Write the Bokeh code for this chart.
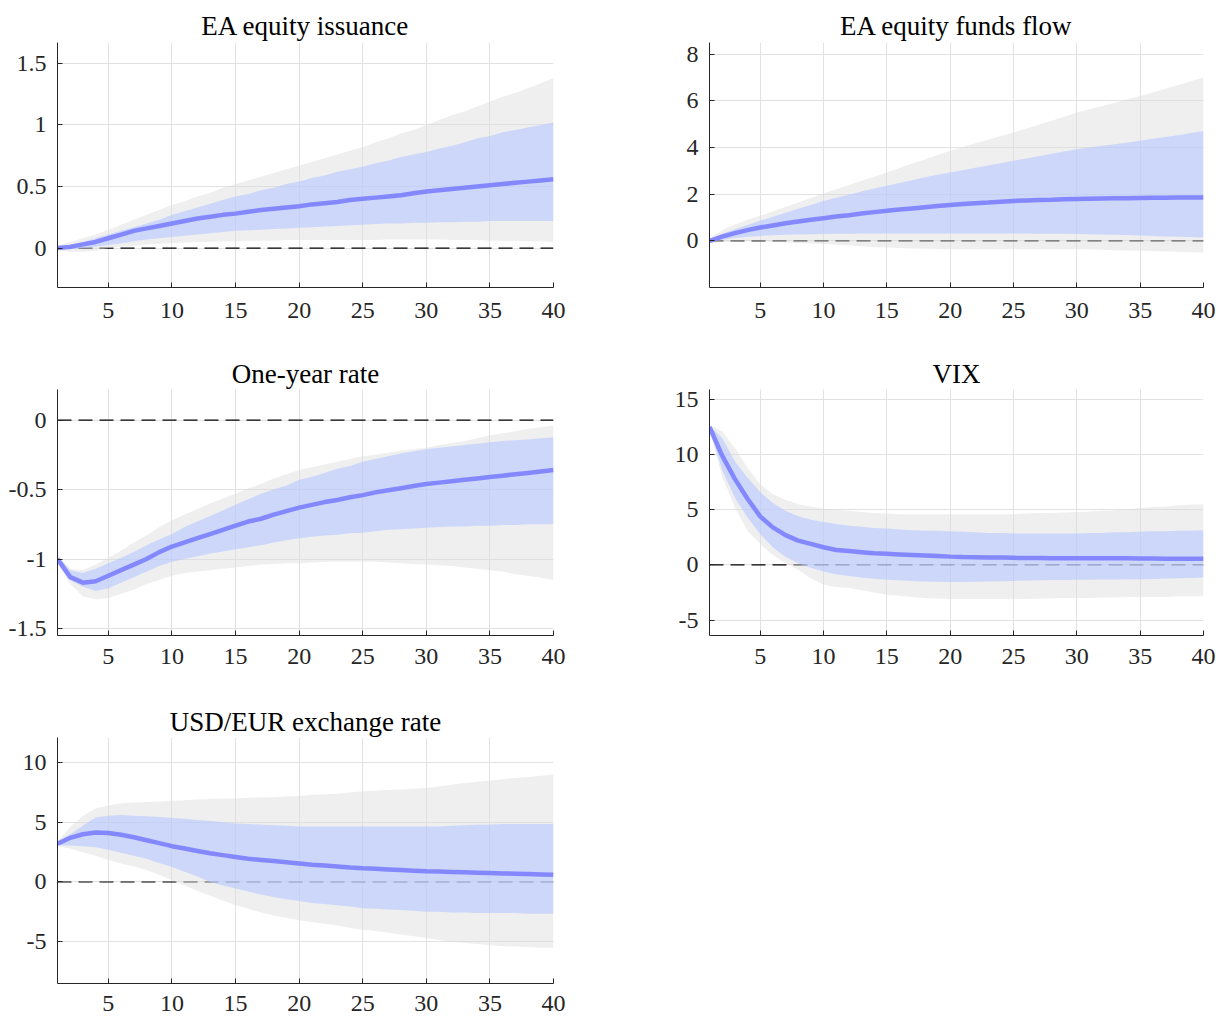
from bokeh.plotting import figure
from bokeh.models import Range1d, FixedTicker, CustomJSTickFormatter
from bokeh.layouts import column, row
from bokeh.embed import file_html
from bokeh.resources import INLINE

FONT = "Liberation Serif"

horizon = list(range(1, 41))
x_ticks = [5, 10, 15, 20, 25, 30, 35, 40]

# ---- EA equity issuance ----
issu_med = [0.00, 0.01, 0.03, 0.05, 0.08, 0.11, 0.14, 0.16, 0.18, 0.20,
            0.22, 0.24, 0.255, 0.27, 0.28, 0.295, 0.31, 0.32, 0.33, 0.34,
            0.355, 0.365, 0.375, 0.39, 0.40, 0.41, 0.42, 0.43, 0.445, 0.46,
            0.47, 0.48, 0.49, 0.50, 0.51, 0.52, 0.53, 0.54, 0.55, 0.56]
issu_hi68 = [0.01, 0.03, 0.05, 0.08, 0.11, 0.14, 0.17, 0.20, 0.23, 0.27,
             0.30, 0.33, 0.36, 0.39, 0.42, 0.44, 0.47, 0.49, 0.52, 0.54,
             0.57, 0.59, 0.62, 0.64, 0.66, 0.69, 0.71, 0.74, 0.76, 0.78,
             0.81, 0.83, 0.86, 0.89, 0.91, 0.94, 0.96, 0.98, 1.00, 1.02]
issu_lo68 = [-0.01, -0.01, 0.00, 0.01, 0.025, 0.04, 0.055, 0.07, 0.08, 0.09,
             0.10, 0.11, 0.12, 0.13, 0.14, 0.145, 0.15, 0.155, 0.16, 0.165,
             0.17, 0.175, 0.18, 0.185, 0.19, 0.195, 0.20, 0.20, 0.205, 0.205,
             0.21, 0.21, 0.215, 0.215, 0.22, 0.22, 0.22, 0.22, 0.22, 0.22]
issu_hi90 = [0.02, 0.05, 0.08, 0.11, 0.15, 0.19, 0.23, 0.27, 0.31, 0.35,
             0.38, 0.42, 0.45, 0.49, 0.52, 0.55, 0.58, 0.61, 0.64, 0.67,
             0.70, 0.73, 0.76, 0.79, 0.82, 0.86, 0.89, 0.93, 0.96, 1.00,
             1.04, 1.08, 1.11, 1.15, 1.19, 1.23, 1.26, 1.30, 1.34, 1.38]
issu_lo90 = [-0.02, -0.03, -0.03, -0.02, 0.00, 0.01, 0.02, 0.03, 0.035, 0.04,
             0.045, 0.05, 0.05, 0.055, 0.055, 0.06, 0.06, 0.06, 0.065, 0.065,
             0.065, 0.065, 0.065, 0.065, 0.065, 0.065, 0.07, 0.07, 0.07, 0.07,
             0.07, 0.065, 0.065, 0.065, 0.06, 0.06, 0.06, 0.055, 0.055, 0.05]

# ---- EA equity funds flow ----
flow_med = [0.00, 0.18, 0.33, 0.46, 0.57, 0.66, 0.75, 0.83, 0.90, 0.97,
            1.04, 1.10, 1.17, 1.23, 1.29, 1.34, 1.39, 1.44, 1.49, 1.54,
            1.58, 1.61, 1.64, 1.68, 1.71, 1.73, 1.75, 1.76, 1.78, 1.79,
            1.80, 1.81, 1.82, 1.83, 1.84, 1.85, 1.85, 1.86, 1.86, 1.86]
flow_hi68 = [0.05, 0.30, 0.50, 0.68, 0.86, 1.03, 1.20, 1.37, 1.54, 1.71,
             1.85, 1.98, 2.11, 2.24, 2.36, 2.48, 2.60, 2.72, 2.83, 2.93,
             3.03, 3.13, 3.23, 3.33, 3.43, 3.53, 3.63, 3.73, 3.83, 3.93,
             4.00, 4.07, 4.14, 4.21, 4.29, 4.37, 4.45, 4.53, 4.62, 4.71]
flow_lo68 = [-0.05, 0.05, 0.12, 0.17, 0.21, 0.24, 0.26, 0.27, 0.28, 0.29,
             0.30, 0.30, 0.31, 0.31, 0.31, 0.31, 0.31, 0.31, 0.31, 0.31,
             0.31, 0.31, 0.31, 0.31, 0.31, 0.31, 0.30, 0.30, 0.30, 0.29,
             0.28, 0.27, 0.26, 0.25, 0.23, 0.21, 0.19, 0.17, 0.16, 0.14]
flow_hi90 = [0.10, 0.45, 0.70, 0.90, 1.07, 1.26, 1.45, 1.64, 1.84, 2.03,
             2.21, 2.39, 2.57, 2.75, 2.93, 3.12, 3.31, 3.49, 3.68, 3.86,
             4.02, 4.18, 4.33, 4.49, 4.64, 4.81, 4.98, 5.15, 5.32, 5.50,
             5.64, 5.78, 5.92, 6.07, 6.21, 6.36, 6.52, 6.68, 6.84, 7.00]
flow_lo90 = [-0.10, -0.06, -0.04, -0.03, -0.03, -0.05, -0.07, -0.09, -0.11, -0.14,
             -0.17, -0.20, -0.23, -0.26, -0.29, -0.31, -0.33, -0.34, -0.35, -0.36,
             -0.36, -0.36, -0.36, -0.36, -0.36, -0.36, -0.36, -0.36, -0.36, -0.36,
             -0.37, -0.38, -0.40, -0.41, -0.43, -0.44, -0.46, -0.47, -0.49, -0.50]

# ---- One-year rate ----
rate_med = [-1.00, -1.13, -1.17, -1.16, -1.12, -1.08, -1.04, -1.00, -0.95, -0.91,
            -0.88, -0.85, -0.82, -0.79, -0.76, -0.73, -0.71, -0.68, -0.655, -0.63,
            -0.61, -0.59, -0.575, -0.555, -0.54, -0.52, -0.505, -0.49, -0.475, -0.46,
            -0.45, -0.44, -0.43, -0.42, -0.41, -0.40, -0.39, -0.38, -0.37, -0.36]
rate_hi68 = [-0.98, -1.08, -1.10, -1.07, -1.03, -0.99, -0.95, -0.90, -0.86, -0.82,
             -0.77, -0.73, -0.69, -0.65, -0.61, -0.57, -0.53, -0.50, -0.47, -0.43,
             -0.41, -0.38, -0.35, -0.33, -0.30, -0.28, -0.26, -0.24, -0.225, -0.21,
             -0.20, -0.19, -0.18, -0.17, -0.16, -0.15, -0.145, -0.14, -0.13, -0.125]
rate_lo68 = [-1.02, -1.15, -1.20, -1.23, -1.21, -1.17, -1.13, -1.09, -1.05, -1.02,
             -1.00, -0.98, -0.96, -0.945, -0.93, -0.915, -0.90, -0.88, -0.865, -0.85,
             -0.84, -0.83, -0.825, -0.815, -0.81, -0.80, -0.79, -0.785, -0.78, -0.775,
             -0.77, -0.765, -0.765, -0.76, -0.76, -0.755, -0.755, -0.75, -0.75, -0.75]
rate_hi90 = [-0.97, -1.07, -1.08, -1.04, -0.99, -0.94, -0.88, -0.83, -0.77, -0.72,
             -0.68, -0.64, -0.60, -0.565, -0.53, -0.49, -0.46, -0.42, -0.39, -0.36,
             -0.34, -0.32, -0.30, -0.28, -0.26, -0.25, -0.235, -0.22, -0.21, -0.20,
             -0.18, -0.165, -0.15, -0.13, -0.11, -0.095, -0.08, -0.065, -0.05, -0.04]
rate_lo90 = [-1.03, -1.18, -1.27, -1.29, -1.28, -1.25, -1.22, -1.18, -1.15, -1.12,
             -1.10, -1.09, -1.08, -1.07, -1.06, -1.05, -1.04, -1.035, -1.03, -1.03,
             -1.025, -1.02, -1.02, -1.02, -1.02, -1.02, -1.025, -1.03, -1.035, -1.04,
             -1.045, -1.05, -1.06, -1.07, -1.08, -1.09, -1.11, -1.12, -1.135, -1.15]

# ---- VIX ----
vix_med = [12.5, 9.9, 7.8, 6.0, 4.4, 3.4, 2.7, 2.2, 1.9, 1.6,
           1.35, 1.25, 1.15, 1.05, 1.0, 0.95, 0.9, 0.85, 0.8, 0.75,
           0.72, 0.7, 0.68, 0.66, 0.64, 0.62, 0.62, 0.61, 0.61, 0.6,
           0.6, 0.6, 0.6, 0.6, 0.58, 0.57, 0.56, 0.55, 0.55, 0.55]
vix_hi68 = [12.6, 11.5, 9.4, 7.9, 6.6, 5.6, 4.9, 4.4, 4.1, 3.9,
            3.7, 3.55, 3.45, 3.35, 3.3, 3.2, 3.15, 3.1, 3.1, 3.05,
            3.0, 2.95, 2.9, 2.9, 2.85, 2.85, 2.85, 2.85, 2.85, 2.85,
            2.9, 2.9, 2.95, 2.95, 3.0, 3.05, 3.05, 3.1, 3.1, 3.15]
vix_lo68 = [12.4, 8.6, 6.1, 4.3, 2.8, 1.6, 0.75, 0.15, -0.25, -0.6,
            -0.85, -1.0, -1.15, -1.25, -1.35, -1.4, -1.45, -1.5, -1.52, -1.55,
            -1.55, -1.52, -1.5, -1.48, -1.45, -1.42, -1.4, -1.38, -1.36, -1.35,
            -1.34, -1.33, -1.32, -1.31, -1.3, -1.27, -1.24, -1.21, -1.18, -1.15]
vix_hi90 = [12.7, 12.1, 10.6, 8.8, 7.3, 6.4, 5.9, 5.5, 5.3, 5.1,
            5.0, 4.9, 4.8, 4.7, 4.65, 4.6, 4.6, 4.6, 4.6, 4.6,
            4.6, 4.6, 4.6, 4.6, 4.6, 4.65, 4.7, 4.7, 4.75, 4.8,
            4.85, 4.9, 4.95, 5.05, 5.15, 5.25, 5.3, 5.4, 5.45, 5.5]
vix_lo90 = [12.3, 8.0, 5.2, 3.1, 1.9, 0.9, 0.15, -0.45, -1.2, -1.8,
            -2.0, -2.1, -2.3, -2.5, -2.7, -2.8, -2.9, -3.0, -3.05, -3.1,
            -3.1, -3.1, -3.1, -3.1, -3.1, -3.1, -3.05, -3.05, -3.0, -3.0,
            -3.0, -2.95, -2.95, -2.9, -2.9, -2.9, -2.9, -2.85, -2.85, -2.85]

# ---- USD/EUR exchange rate ----
fx_med = [3.2, 3.7, 4.0, 4.15, 4.1, 3.95, 3.75, 3.5, 3.25, 3.0,
          2.8, 2.6, 2.4, 2.25, 2.1, 1.95, 1.85, 1.75, 1.65, 1.55,
          1.45, 1.38, 1.3, 1.22, 1.15, 1.1, 1.05, 1.0, 0.95, 0.9,
          0.87, 0.84, 0.81, 0.78, 0.75, 0.72, 0.69, 0.66, 0.63, 0.6]
fx_hi68 = [3.3, 4.0, 4.7, 5.4, 5.55, 5.6, 5.55, 5.5, 5.45, 5.35,
           5.3, 5.2, 5.1, 5.0, 4.9, 4.85, 4.8, 4.75, 4.7, 4.65,
           4.65, 4.65, 4.65, 4.65, 4.65, 4.65, 4.65, 4.65, 4.65, 4.65,
           4.65, 4.7, 4.75, 4.8, 4.8, 4.85, 4.85, 4.85, 4.85, 4.85]
fx_lo68 = [3.1, 3.05, 3.0, 2.9, 2.7, 2.45, 2.2, 1.95, 1.6, 1.25,
           0.85, 0.45, 0.0, -0.3, -0.55, -0.8, -1.05, -1.25, -1.45, -1.6,
           -1.75, -1.85, -1.95, -2.05, -2.2, -2.25, -2.3, -2.35, -2.4, -2.5,
           -2.5, -2.55, -2.55, -2.6, -2.6, -2.6, -2.6, -2.65, -2.65, -2.65]
fx_hi90 = [3.4, 4.6, 5.55, 6.15, 6.4, 6.6, 6.65, 6.7, 6.75, 6.8,
           6.85, 6.9, 6.95, 7.0, 7.0, 7.05, 7.1, 7.1, 7.15, 7.2,
           7.3, 7.35, 7.4, 7.5, 7.6, 7.65, 7.7, 7.75, 7.8, 7.9,
           8.0, 8.15, 8.3, 8.4, 8.5, 8.6, 8.7, 8.8, 8.9, 9.0]
fx_lo90 = [3.0, 2.8, 2.5, 2.2, 1.85, 1.55, 1.3, 1.0, 0.6, 0.15,
           -0.3, -0.75, -1.15, -1.55, -1.95, -2.25, -2.55, -2.8, -3.0, -3.2,
           -3.35, -3.5, -3.65, -3.85, -4.0, -4.1, -4.25, -4.4, -4.55, -4.7,
           -4.85, -5.0, -5.1, -5.2, -5.3, -5.35, -5.4, -5.45, -5.5, -5.5]

titles = ["EA equity issuance", "EA equity funds flow", "One-year rate", "VIX",
          "USD/EUR exchange rate"]
y_ticks = [[0, 0.5, 1, 1.5], [0, 2, 4, 6, 8], [-1.5, -1, -0.5, 0],
           [-5, 0, 5, 10, 15], [-5, 0, 5, 10]]
y_limits = [(-0.32, 1.67), (-2.0, 8.5), (-1.55, 0.22), (-6.4, 15.9), (-8.5, 12.1)]

zero_line = [0 for _ in horizon]

AX = "#262626"


def make_panel(title, med, lo68, hi68, lo90, hi90, ylim, yt, geom):
    w, h, bl, br, bt, bb, t_std, x_std, x_lh = geom
    p = figure(width=w, height=h, x_range=Range1d(1, 40), y_range=Range1d(*ylim),
               output_backend="svg", toolbar_location=None,
               min_border_left=bl, min_border_right=br,
               min_border_top=bt, min_border_bottom=bb)
    p.outline_line_color = None
    p.background_fill_color = "white"
    p.border_fill_color = "white"

    p.title.text = title
    p.title.align = "center"
    p.title.text_font = FONT
    p.title.text_font_size = "27px"
    p.title.text_font_style = "normal"
    p.title.text_color = "black"
    p.title.standoff = t_std

    p.line(horizon, zero_line, line_color="black", line_width=1.1, line_dash="14 7")
    p.varea(x=horizon, y1=lo90, y2=hi90, fill_color=(220, 220, 220), fill_alpha=0.45)
    p.varea(x=horizon, y1=lo68, y2=hi68, fill_color=(182, 198, 255), fill_alpha=0.6)
    p.line(horizon, med, line_color=(124, 128, 255), line_width=4.5, line_alpha=0.9)

    p.xaxis.ticker = FixedTicker(ticks=x_ticks)
    p.yaxis.ticker = FixedTicker(ticks=yt)
    p.xaxis.formatter = CustomJSTickFormatter(code="return tick.toString();")
    p.yaxis.formatter = CustomJSTickFormatter(code="return tick.toString();")
    for ax in (p.xaxis[0], p.yaxis[0]):
        ax.axis_line_color = AX
        ax.axis_line_width = 1
        ax.major_tick_line_color = AX
        ax.major_tick_in = 5
        ax.major_tick_out = 0
        ax.minor_tick_line_color = None
        ax.major_label_text_font = FONT
        ax.major_label_text_font_size = "24px"
        ax.major_label_text_color = AX
    p.xaxis.major_label_standoff = x_std
    p.xaxis.major_label_text_line_height = x_lh
    p.yaxis.major_label_standoff = 11

    p.xgrid.grid_line_color = "#e2e2e2"
    p.ygrid.grid_line_color = "#e2e2e2"
    return p


series = [
    (issu_med, issu_lo68, issu_hi68, issu_lo90, issu_hi90),
    (flow_med, flow_lo68, flow_hi68, flow_lo90, flow_hi90),
    (rate_med, rate_lo68, rate_hi68, rate_lo90, rate_hi90),
    (vix_med, vix_lo68, vix_hi68, vix_lo90, vix_hi90),
    (fx_med, fx_lo68, fx_hi68, fx_lo90, fx_hi90),
]

# (width, height, border_left, border_right, border_top, border_bottom,
#  title standoff, x label standoff, x label line height)
geoms = [
    (612, 355, 57, 59, 42, 68, 4, 15, 1.2),
    (606, 355, 97, 15, 42, 68, 4, 15, 1.2),
    (612, 347, 57, 59, 34, 67, 2, 13, 1.2),
    (606, 347, 97, 15, 34, 67, 2, 13, 1.2),
    (612, 316, 57, 59, 35, 35, 2, 12, 0.9),
]

panels = []
for i in range(5):
    med, lo68, hi68, lo90, hi90 = series[i]
    panels.append(make_panel(titles[i], med, lo68, hi68, lo90, hi90,
                             y_limits[i], y_ticks[i], geoms[i]))

layout = column(row(panels[0], panels[1]), row(panels[2], panels[3]), row(panels[4]))

open("out.html", "w").write(file_html(layout, INLINE))
